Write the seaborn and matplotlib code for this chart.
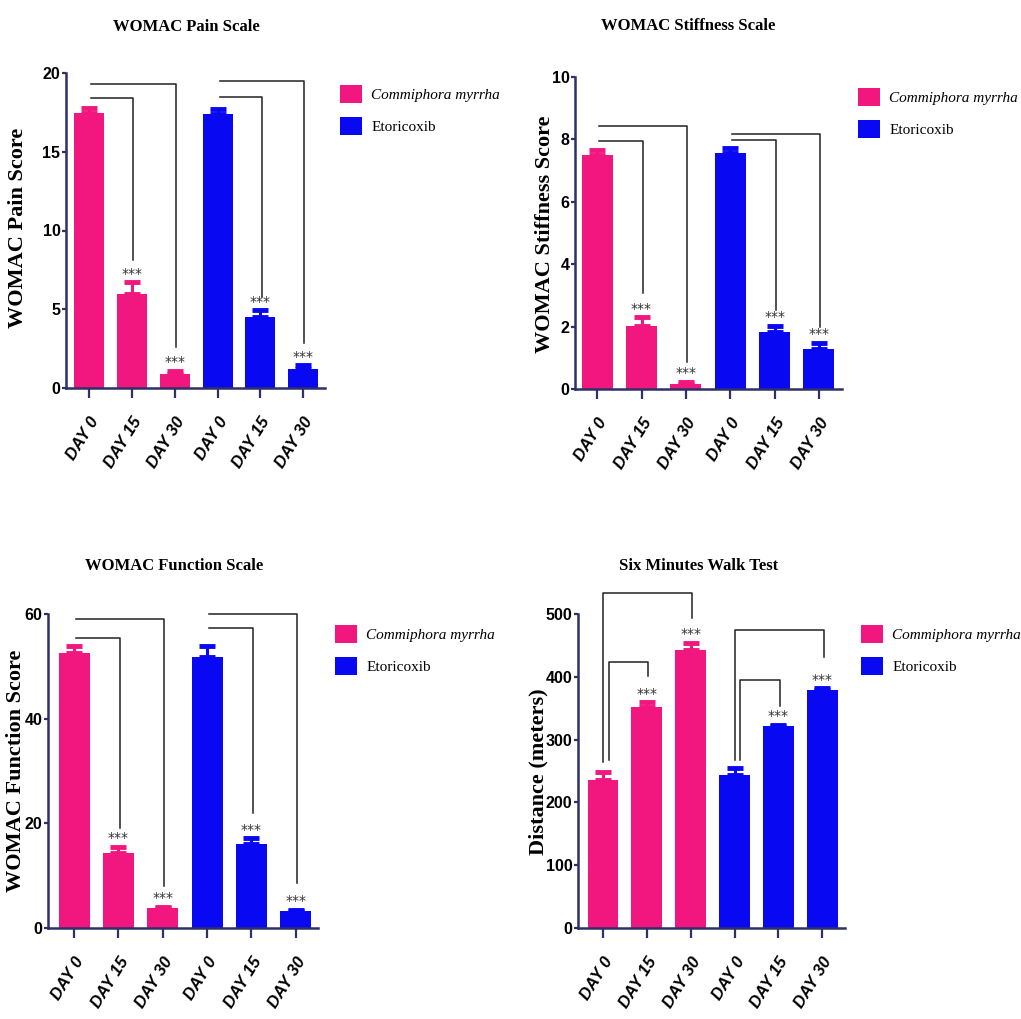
import matplotlib
matplotlib.use("Agg")
import matplotlib.pyplot as plt
import seaborn as sns
import pandas as pd
import numpy as np

# ---------------- data ----------------
days = ["DAY 0", "DAY 15", "DAY 30"]
groups = ["Commiphora myrrha", "Etoricoxib"]
stars = ["", "***", "***"]

pain_cm = [17.45, 6.0, 0.9]
pain_cm_err = [0.35, 0.7, 0.2]
pain_et = [17.4, 4.5, 1.2]
pain_et_err = [0.3, 0.45, 0.25]

stiff_cm = [7.5, 2.02, 0.16]
stiff_cm_err = [0.15, 0.28, 0.08]
stiff_et = [7.56, 1.82, 1.29]
stiff_et_err = [0.16, 0.21, 0.19]

func_cm = [52.6, 14.3, 3.8]
func_cm_err = [1.2, 1.2, 0.3]
func_et = [51.8, 16.1, 3.2]
func_et_err = [2.0, 1.1, 0.3]

walk_cm = [236, 352, 442]
walk_cm_err = [12, 8, 12]
walk_et = [244, 321, 379]
walk_et_err = [10, 3, 3]

titles = ["WOMAC Pain Scale", "WOMAC Stiffness Scale",
          "WOMAC Function Scale", "Six Minutes Walk Test"]
ylabels = ["WOMAC Pain Score", "WOMAC Stiffness Score",
           "WOMAC Function Score", "Distance (meters)"]
ymax = [20, 10, 60, 500]
ysteps = [5, 2, 20, 100]

# brackets: (from bar, to bar, top value, left leg bottom or None, right leg bottom)
pain_br = [(0, 1, 18.4, None, 8.1), (0, 2, 19.3, None, 2.6),
           (3, 4, 18.45, None, 5.75), (3, 5, 19.5, None, 2.85)]
stiff_br = [(0, 1, 7.96, None, 3.07), (0, 2, 8.44, None, 0.88),
            (3, 4, 7.99, None, 2.53), (3, 5, 8.18, None, 2.0)]
func_br = [(0, 1, 55.5, None, 19.1), (0, 2, 59.0, None, 7.95),
           (3, 4, 57.3, None, 21.9), (3, 5, 60.0, None, 8.6)]
walk_br = [(0, 1, 423, 268, 401), (0, 2, 533, 264, 493),
           (3, 4, 395, 268, 353), (3, 5, 474, 268, 432)]

pink = "#F2167F"
blue = "#0808F2"
spine_c = "#2E3068"

W, H = 1021, 1019
fig = plt.figure(figsize=(W / 100, H / 100), dpi=100)

# axes rectangles in pixels: left, right, top, bottom
rects = [(66, 325, 73, 388), (575, 842, 77, 389),
         (48, 318, 614, 928), (578, 845, 614, 928)]
xlims = [(-0.54, 5.51), (-0.5, 5.52), (-0.59, 5.5), (-0.57, 5.52)]
title_pos = [(186, 27), (688, 26), (174, 566), (699, 566)]
ylab_pos = [(18, 228), (545, 234), (16, 771), (538, 772)]
leg_pos = [(340, 85), (858, 88), (335, 625), (861, 625)]

panels = [
    (pain_cm, pain_cm_err, pain_et, pain_et_err, pain_br),
    (stiff_cm, stiff_cm_err, stiff_et, stiff_et_err, stiff_br),
    (func_cm, func_cm_err, func_et, func_et_err, func_br),
    (walk_cm, walk_cm_err, walk_et, walk_et_err, walk_br),
]

serif = ["Liberation Serif", "DejaVu Serif"]
sans = ["Liberation Sans", "DejaVu Sans"]

for k, (cm, cme, et, ete, brs) in enumerate(panels):
    l, r, t, b = rects[k]
    ax = fig.add_axes([l / W, 1 - b / H, (r - l) / W, (b - t) / H])
    slots = [f"{g}|{d}" for g in groups for d in days]
    df = pd.DataFrame({
        "slot": slots,
        "group": [g for g in groups for _ in days],
        "value": list(cm) + list(et),
        "err": list(cme) + list(ete),
        "star": stars * 2,
    })
    sns.barplot(data=df, x="slot", y="value", hue="group",
                palette={groups[0]: pink, groups[1]: blue},
                dodge=False, width=0.7, errorbar=None, ax=ax,
                saturation=1, linewidth=0)
    xs = np.arange(len(df))
    for i in range(len(df)):
        c = pink if df["group"][i] == groups[0] else blue
        ax.errorbar(xs[i], df["value"][i], yerr=[[0], [df["err"][i]]],
                    fmt="none", ecolor=c, elinewidth=2.2, capsize=5.5,
                    capthick=3.5, zorder=1)
        if df["star"][i]:
            ax.annotate(df["star"][i], (xs[i], df["value"][i] + df["err"][i]),
                        xytext=(0, 1), textcoords="offset points",
                        ha="center", va="bottom", fontsize=10,
                        color="#333333")
    # brackets
    for (i, j, top, lb, rb) in brs:
        x0 = xs[i] + (0.05 if lb is None else (0.0 if j == i + 2 else 0.13))
        x1 = xs[j] + 0.03
        if lb is None:
            ax.plot([x0, x1, x1], [top, top, rb], color="#222222",
                    lw=1.1, clip_on=False)
        else:
            ax.plot([x0, x0, x1, x1], [lb, top, top, rb], color="#222222",
                    lw=1.1, clip_on=False)

    ax.set_xlim(*xlims[k])
    ax.set_ylim(0, ymax[k])
    ax.set_yticks(np.arange(0, ymax[k] + 1e-9, ysteps[k]))
    ax.set_xticks(xs)
    ax.set_xticklabels(days * 2, rotation=58, ha="right",
                       rotation_mode="anchor", fontstyle="italic",
                       fontweight="bold", fontsize=12, family=sans)
    for lab in ax.get_yticklabels():
        lab.set_family(sans)
        lab.set_fontweight("bold")
        lab.set_fontsize(11.5)
    ax.set_xlabel("")
    ax.set_ylabel("")
    for s in ["top", "right"]:
        ax.spines[s].set_visible(False)
    for s in ["left", "bottom"]:
        ax.spines[s].set_color(spine_c)
        ax.spines[s].set_linewidth(1.8)
    ax.tick_params(axis="x", length=7, width=1.6, color=spine_c, pad=12)
    ax.tick_params(axis="y", length=3, width=1.6, color=spine_c, pad=1)
    ax.set_facecolor("white")

    handles, labels = ax.get_legend_handles_labels()
    if ax.get_legend() is not None:
        ax.get_legend().remove()
    lx, ly = leg_pos[k]
    leg = ax.legend(handles[:2], groups, loc="upper left",
                    bbox_to_anchor=(lx / W, 1 - ly / H),
                    bbox_transform=fig.transFigure, frameon=False,
                    borderpad=0, borderaxespad=0, handlelength=1.45,
                    handleheight=1.45, handletextpad=0.6,
                    labelspacing=0.9,
                    prop={"family": serif, "size": 11})
    leg.get_texts()[0].set_style("italic")

    tx, ty = title_pos[k]
    fig.text(tx / W, 1 - ty / H, titles[k], ha="center", va="center",
             family=serif, fontweight="bold", fontsize=12)
    yx, yy = ylab_pos[k]
    fig.text(yx / W, 1 - yy / H, ylabels[k], ha="center", va="center",
             rotation=90, family=serif, fontweight="bold", fontsize=16)

fig.savefig("out.png", dpi=100, facecolor="white")
